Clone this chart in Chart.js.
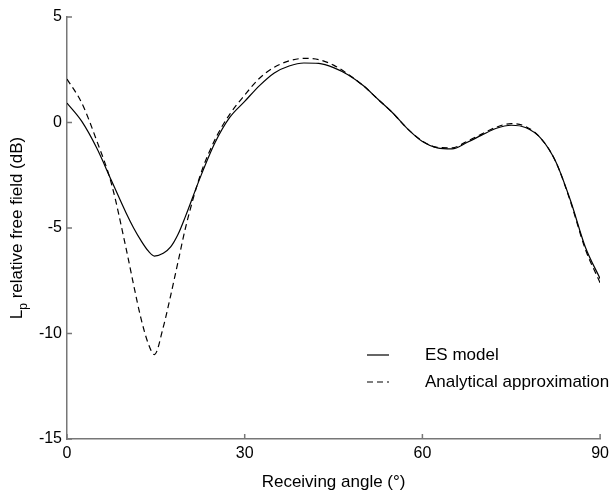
<!DOCTYPE html>
<html>
<head>
<meta charset="utf-8">
<script src="https://cdn.jsdelivr.net/npm/chart.js@4.4.1/dist/chart.umd.min.js"></script>
<style>
  html, body { margin: 0; padding: 0; background: #fff; }
  canvas { display: block; }
</style>
</head>
<body>
<canvas id="myChart" width="614" height="496"></canvas>
<script>
// -- receiving angle (deg) and levels (dB)
var angles = [0, 2.5, 5, 7.5, 10, 11.25, 12.5, 13.75, 14.75, 16.25, 17.5, 18.75, 20,
  22.5, 25, 27.5, 30, 32.5, 35, 37.5, 40, 42.5, 45, 47.5, 50, 52.5, 55, 57.5, 60,
  62.5, 65, 67.5, 70, 72.5, 75, 77.5, 80, 82.5, 85, 87.5, 90];

var esModel = [0.92, 0.05, -1.2, -2.75, -4.3, -5.0, -5.6, -6.1, -6.33, -6.2, -5.9, -5.3, -4.45,
  -2.6, -0.95, 0.25, 1.0, 1.75, 2.35, 2.68, 2.82, 2.8, 2.6, 2.25, 1.75, 1.1, 0.45, -0.3, -0.9,
  -1.2, -1.25, -0.95, -0.6, -0.27, -0.13, -0.25, -0.75, -1.85, -3.7, -5.9, -7.4];

var analytical = [2.06, 0.92, -0.85, -2.9, -6.0, -7.7, -9.3, -10.5, -11.0, -9.7, -8.2, -6.6, -5.0,
  -2.5, -0.8, 0.4, 1.3, 2.1, 2.62, 2.92, 3.04, 2.98, 2.72, 2.28, 1.75, 1.1, 0.45, -0.3, -0.88,
  -1.18, -1.2, -0.9, -0.55, -0.22, -0.05, -0.2, -0.75, -1.85, -3.75, -6.0, -7.6];

var seriesNames = ["ES model", "Analytical approximation"];
var xTicks = [0, 30, 60, 90];
var yTicks = [-15, -10, -5, 0, 5];

function toPoints(ys) {
  return angles.map(function (a, i) { return { x: a, y: ys[i] }; });
}

var FONT = "'Liberation Sans', Arial, Helvetica, sans-serif";

// inward ticks, y title with subscript, legend inside plot
var extras = {
  id: 'extras',
  afterDraw: function (chart) {
    var ctx = chart.ctx;
    var xs = chart.scales.x, ys = chart.scales.y, area = chart.chartArea;
    ctx.save();
    ctx.strokeStyle = '#777';
    ctx.lineWidth = 1.5;
    ctx.beginPath();
    xTicks.forEach(function (t) {
      var px = xs.getPixelForValue(t);
      ctx.moveTo(px, area.bottom);
      ctx.lineTo(px, area.bottom - 5);
    });
    yTicks.forEach(function (t) {
      var py = ys.getPixelForValue(t);
      ctx.moveTo(area.left, py);
      ctx.lineTo(area.left + 5, py);
    });
    ctx.stroke();

    // y axis title: L_p relative free field (dB)
    var cy = (area.top + area.bottom) / 2;
    ctx.translate(22, cy);
    ctx.rotate(-Math.PI / 2);
    ctx.fillStyle = '#000';
    ctx.textBaseline = 'alphabetic';
    ctx.textAlign = 'left';
    var big = '17px ' + FONT, small = '12px ' + FONT;
    var rest = ' relative free field (dB)';
    ctx.font = big;
    var wL = ctx.measureText('L').width, wR = ctx.measureText(rest).width;
    ctx.font = small;
    var wP = ctx.measureText('p').width;
    var x0 = -(wL + wP + wR) / 2;
    ctx.font = big;
    ctx.fillText('L', x0, 0);
    ctx.font = small;
    ctx.fillText('p', x0 + wL, 5);
    ctx.font = big;
    ctx.fillText(rest, x0 + wL + wP, 0);
    ctx.restore();

    // legend
    ctx.save();
    ctx.font = '17px ' + FONT;
    ctx.fillStyle = '#000';
    ctx.textBaseline = 'middle';
    chart.data.datasets.forEach(function (ds, i) {
      var ly = 355 + i * 27;
      ctx.strokeStyle = ds.borderColor;
      ctx.lineWidth = ds.borderWidth;
      ctx.setLineDash(ds.borderDash || []);
      ctx.beginPath();
      ctx.moveTo(367, ly);
      ctx.lineTo(389, ly);
      ctx.stroke();
      ctx.fillText(ds.label, 425, ly);
    });
    ctx.restore();
  }
};

var ctx = document.getElementById("myChart");

var myChart = new Chart(ctx, {
  type: 'line',
  data: {
    datasets: [{
      label: seriesNames[0],
      data: toPoints(esModel),
      borderColor: '#000',
      borderWidth: 1.2,
      pointRadius: 0,
      fill: false,
      cubicInterpolationMode: 'monotone'
    }, {
      label: seriesNames[1],
      data: toPoints(analytical),
      borderColor: '#000',
      borderWidth: 1.2,
      borderDash: [6, 4],
      pointRadius: 0,
      fill: false,
      cubicInterpolationMode: 'monotone'
    }]
  },
  options: {
    responsive: false,
    animation: false,
    devicePixelRatio: 1,
    events: [],
    layout: { padding: { top: 17, right: 12, left: 0, bottom: 0 } },
    plugins: {
      legend: { display: false },
      tooltip: { enabled: false }
    },
    scales: {
      x: {
        type: 'linear',
        min: 0,
        max: 90,
        afterBuildTicks: function (s) { s.ticks = xTicks.map(function (v) { return { value: v }; }); },
        afterFit: function (s) { s.height = 57; },
        ticks: { color: '#000', font: { family: FONT, size: 16 }, padding: 5 },
        grid: { display: false, drawTicks: false },
        border: { display: true, color: '#777', width: 1.5 },
        title: {
          display: true,
          text: 'Receiving angle (\u00b0)',
          color: '#000',
          font: { family: FONT, size: 17 },
          padding: { top: 4, bottom: 3 }
        }
      },
      y: {
        min: -15,
        max: 5,
        afterBuildTicks: function (s) { s.ticks = yTicks.map(function (v) { return { value: v }; }); },
        afterFit: function (s) { s.width = 67; },
        ticks: { color: '#000', font: { family: FONT, size: 16 }, padding: 5 },
        grid: { display: false, drawTicks: false },
        border: { display: true, color: '#777', width: 1.5 }
      }
    }
  },
  plugins: [extras]
});
</script>
</body>
</html>
